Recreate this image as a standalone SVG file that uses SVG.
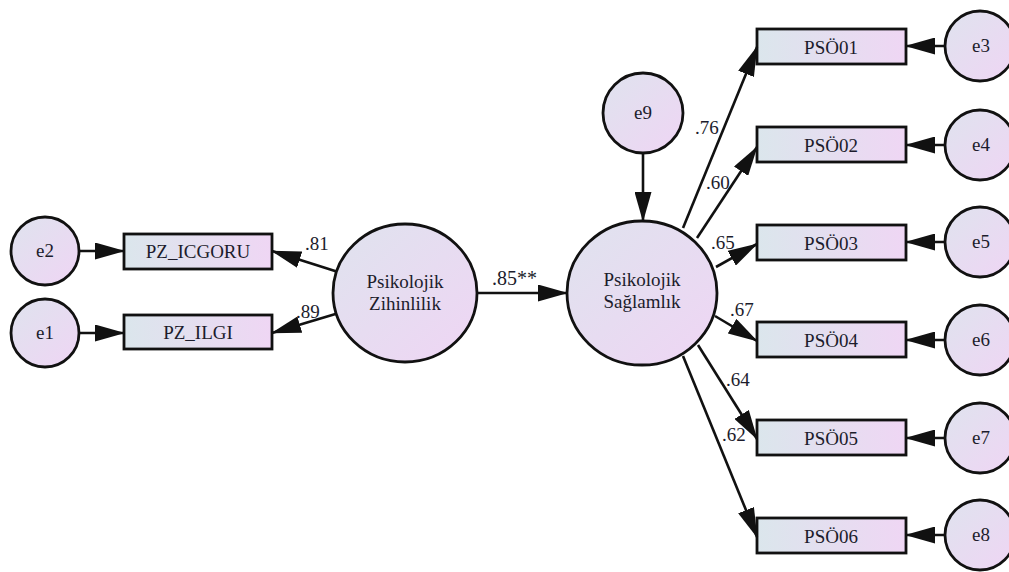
<svg xmlns="http://www.w3.org/2000/svg" width="1009" height="572" viewBox="0 0 1009 572" font-family="Liberation Serif, Times New Roman, serif">
<style>
.box{stroke:#111;stroke-width:2.8;fill:url(#gb)}
.lat{stroke:#111;stroke-width:2.8;fill:url(#gc)}
.t{font-size:19px;fill:#1c1c2c;text-anchor:middle}
.lbl{font-size:19px;fill:#1c1c2c}
.c line{stroke:#111;stroke-width:2.6;marker-end:url(#ah)}
</style>
<defs>
<linearGradient id="gb" x1="0" y1="0" x2="1" y2="0">
<stop offset="0" stop-color="#dbe6ec"/>
<stop offset="1" stop-color="#efd6f4"/>
</linearGradient>
<linearGradient id="gc" x1="0" y1="0" x2="1" y2="1">
<stop offset="0" stop-color="#dfe3ee"/>
<stop offset="1" stop-color="#efd5f4"/>
</linearGradient>
<marker id="ah" markerUnits="userSpaceOnUse" viewBox="0 0 30 17" refX="29" refY="8.5" markerWidth="30" markerHeight="17" orient="auto">
<path d="M0,0 L30,8.5 L0,17 z" fill="#111"/>
</marker>
</defs>
<rect width="1009" height="572" fill="#fff"/>

<g id="e2"><circle class="lat" cx="45" cy="251" r="34"/><text class="t" x="45" y="257">e2</text></g>
<g id="e1"><circle class="lat" cx="45" cy="333" r="34"/><text class="t" x="45" y="339">e1</text></g>
<g id="PZ_ICGORU"><rect class="box" x="124" y="234" width="148" height="35"/><text class="t" x="198" y="258">PZ_ICGORU</text></g>
<g id="PZ_ILGI"><rect class="box" x="124" y="315" width="148" height="34"/><text class="t" x="198" y="339">PZ_ILGI</text></g>
<g id="PZ"><ellipse class="lat" cx="405" cy="293" rx="72" ry="69"/><text class="t" x="405" y="288">Psikolojik</text><text class="t" x="405" y="310">Zihinlilik</text></g>
<g id="PS"><ellipse class="lat" cx="642" cy="293" rx="75" ry="72"/><text class="t" x="642" y="286">Psikolojik</text><text class="t" x="642" y="308">Sağlamlık</text></g>
<g id="e9"><circle class="lat" cx="643" cy="113" r="40"/><text class="t" x="643" y="119">e9</text></g>

<g id="PSO01"><rect class="box" x="757" y="29" width="149" height="35"/><text class="t" x="831" y="54">PSÖ01</text></g>
<g id="PSO02"><rect class="box" x="757" y="127" width="149" height="35"/><text class="t" x="831" y="152">PSÖ02</text></g>
<g id="PSO03"><rect class="box" x="757" y="225" width="149" height="35"/><text class="t" x="831" y="250">PSÖ03</text></g>
<g id="PSO04"><rect class="box" x="757" y="322" width="149" height="35"/><text class="t" x="831" y="347">PSÖ04</text></g>
<g id="PSO05"><rect class="box" x="757" y="420" width="149" height="35"/><text class="t" x="831" y="445">PSÖ05</text></g>
<g id="PSO06"><rect class="box" x="757" y="518" width="149" height="35"/><text class="t" x="831" y="543">PSÖ06</text></g>

<g id="e3"><circle class="lat" cx="980" cy="46" r="35"/><text class="t" x="981" y="52">e3</text></g>
<g id="e4"><circle class="lat" cx="980" cy="145" r="35"/><text class="t" x="981" y="151">e4</text></g>
<g id="e5"><circle class="lat" cx="980" cy="242" r="35"/><text class="t" x="981" y="248">e5</text></g>
<g id="e6"><circle class="lat" cx="980" cy="340" r="35"/><text class="t" x="981" y="346">e6</text></g>
<g id="e7"><circle class="lat" cx="980" cy="438" r="35"/><text class="t" x="981" y="444">e7</text></g>
<g id="e8"><circle class="lat" cx="980" cy="535" r="35"/><text class="t" x="981" y="541">e8</text></g>

<g id="connectors" class="c">
<line x1="79" y1="251" x2="124" y2="251"/>
<line x1="79" y1="333" x2="124" y2="333"/>
<line x1="336.6" y1="271.4" x2="272" y2="251"/>
<line x1="336.3" y1="313.7" x2="272" y2="333"/>
<line x1="477" y1="293" x2="567" y2="293"/>
<line x1="643" y1="153" x2="643" y2="221"/>
<line x1="683" y1="228" x2="757" y2="47"/>
<line x1="697" y1="238" x2="757" y2="147"/>
<line x1="716" y1="267" x2="757" y2="244"/>
<line x1="715" y1="316" x2="757" y2="341"/>
<line x1="698" y1="345" x2="757" y2="439"/>
<line x1="683" y1="356" x2="757" y2="537"/>
<line x1="945" y1="46" x2="906" y2="46"/>
<line x1="945" y1="145" x2="906" y2="145"/>
<line x1="945" y1="242" x2="906" y2="242"/>
<line x1="945" y1="340" x2="906" y2="340"/>
<line x1="945" y1="438" x2="906" y2="438"/>
<line x1="945" y1="535" x2="906" y2="535"/>
</g>

<g id="labels">
<text class="lbl" x="305" y="250">.81</text>
<text class="lbl" x="296" y="318">.89</text>
<text class="lbl" x="492" y="285" style="font-size:20px">.85**</text>
<text class="lbl" x="695" y="134">.76</text>
<text class="lbl" x="706" y="189">.60</text>
<text class="lbl" x="711" y="249">.65</text>
<text class="lbl" x="730" y="316">.67</text>
<text class="lbl" x="726" y="386">.64</text>
<text class="lbl" x="722" y="441">.62</text>
</g>
</svg>
